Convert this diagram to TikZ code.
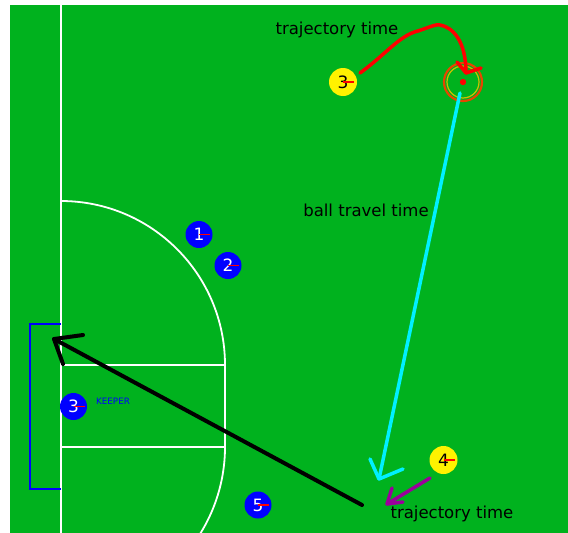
\documentclass[tikz,border=0pt]{standalone}
\usepackage{fontspec}
\setmainfont{DejaVu Sans}
\begin{document}
\begin{tikzpicture}[x=1pt,y=-1pt,
  fieldline/.style={white,line width=1.8pt},
  player/.style={circle,fill=blue,minimum size=27pt,inner sep=0pt,text=white,font=\fontsize{17}{17}\selectfont},
  opp/.style={circle,fill=yellow,minimum size=28pt,inner sep=0pt,text=black,font=\fontsize{17}{17}\selectfont},
  tick/.style={red,line width=1.2pt},
  lbl/.style={text=black,font=\fontsize{16.5}{18}\selectfont,inner sep=0pt},
  movearrow/.style={line width=3.5pt,line join=round,line cap=round}]
\definecolor{pitch}{RGB}{0,178,30}
\definecolor{purp}{RGB}{155,0,155}
\definecolor{aqua}{RGB}{0,240,255}
\definecolor{ballring}{RGB}{230,70,0}
\definecolor{ballin}{RGB}{205,190,0}
\useasboundingbox (0,0) rectangle (568,533);
\fill[white] (0,0) rectangle (568,533);
\fill[pitch] (10,5) rectangle (568,533);
% pitch markings
\draw[fieldline] (61,5) -- (61,533);
\begin{scope}
\clip (10,5) rectangle (568,533);
\draw[fieldline] (61,201) arc[start angle=-90,end angle=0,radius=164] -- (225,447)
  arc[start angle=0,end angle=40,radius=164];
\end{scope}
\draw[fieldline] (61,365) -- (225,365);
\draw[fieldline] (61,447) -- (225,447);
% goal
\draw[blue,line width=1.5pt] (61,324) -- (30,324) -- (30,489) -- (61,489);
% players
\node[player] (p1) at (199,234.5) {1};
\node[player] (p2) at (228,265.5) {2};
\node[player] (pk) at (73.5,406.5) {3};
\node[player] (p5) at (258,505) {5};
\foreach \p in {p1,p2,pk,p5} \draw[tick] (\p.center) -- ++(11,0);
\node[text=blue,font=\fontsize{8.8}{9}\selectfont,inner sep=0pt] (keeper) at (113,401) {KEEPER};
% opponents
\node[opp] (o3) at (343,82) {3};
\node[opp] (o4) at (443.5,460) {4};
\foreach \p in {o3,o4} \draw[tick] (\p.center) -- ++(11,0);
% ball
\node[circle,draw=ballring,line width=2.2pt,minimum size=38pt,inner sep=0pt] (ball) at (463,82) {};
\draw[ballin,line width=1.2pt] (ball.center) circle[radius=16];
\fill[red] (ball.center) circle[radius=3.2];
% labels
\node[lbl] (t1) at (337,30) {trajectory time};
\node[lbl] (t2) at (366,210) {ball travel time};
\node[lbl] (t3) at (452,514) {trajectory time};
% red trajectory
\coordinate (r0) at (360,73);
\coordinate (rt) at (466,73);
\draw[red,movearrow] (r0) .. controls (385,55) and (400,35) .. (418,31)
  .. controls (430,27) and (436,24) .. (440,25)
  .. controls (452,27) and (466,40) .. (rt);
\draw[red,movearrow] (457,62) -- (rt) -- (481,68);
% cyan ball travel
\coordinate (c0) at (460,93);
\coordinate (ct) at (379,479);
\draw[aqua,movearrow] (c0) -- (ct);
\draw[aqua,movearrow] (370,459) -- (ct) -- (403,469);
% purple
\coordinate (m0) at (430,478);
\coordinate (mt) at (387,504);
\draw[purp,movearrow] (m0) -- (mt);
\draw[purp,movearrow] (392,488) -- (mt) -- (403,502);
% black pass
\coordinate (k0) at (362,505);
\coordinate (kt) at (54,339);
\draw[black,line width=4pt,line cap=round] (k0) -- (kt);
\draw[black,line width=4pt,line cap=round,line join=round] (83,335) -- (kt) -- (63,364);
\end{tikzpicture}
\end{document}
